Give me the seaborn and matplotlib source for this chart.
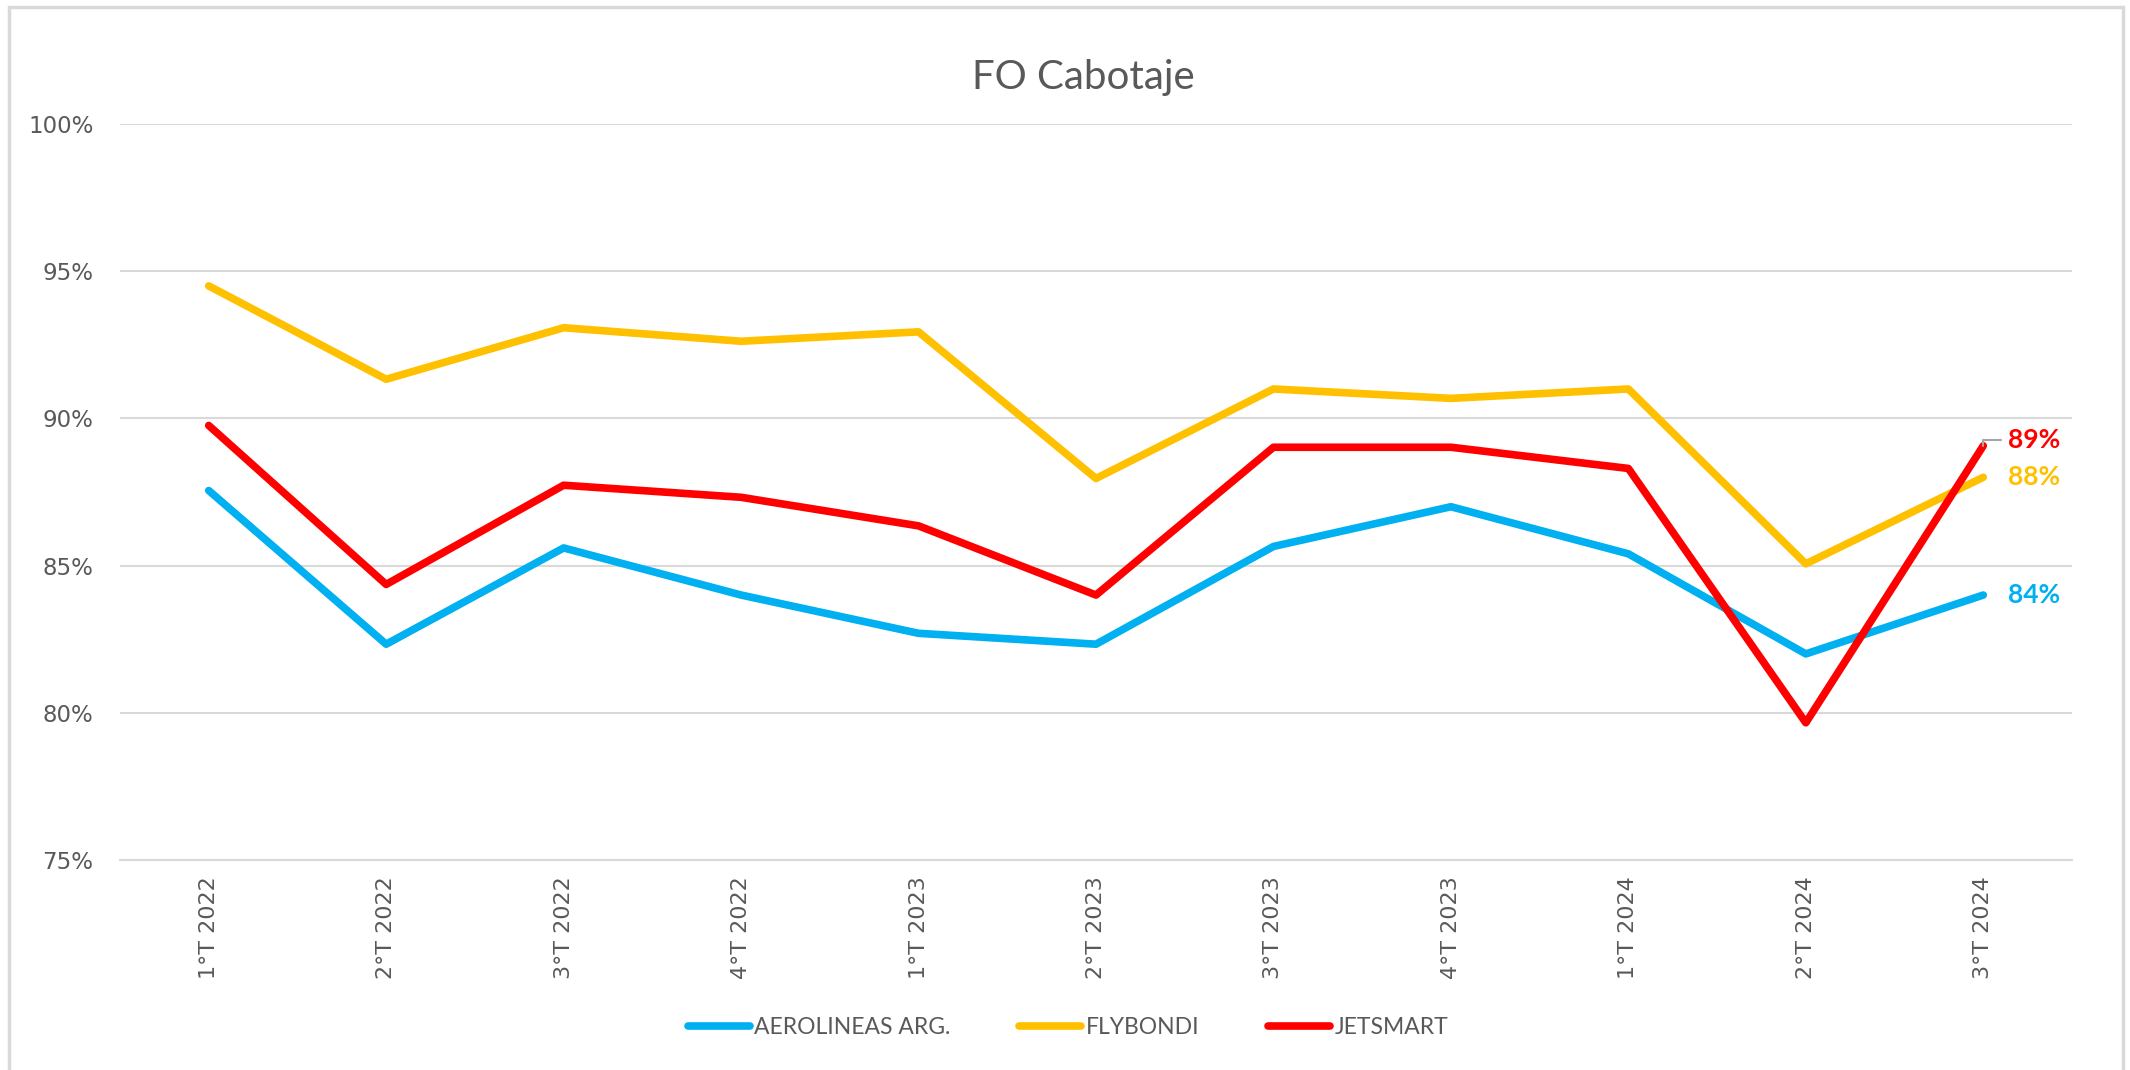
import pandas as pd
import numpy as np
import matplotlib.pyplot as plt
import seaborn as sns
from matplotlib.patches import Rectangle

# datos
trimestres = ['1°T 2022', '2°T 2022', '3°T 2022', '4°T 2022', '1°T 2023', '2°T 2023',
              '3°T 2023', '4°T 2023', '1°T 2024', '2°T 2024', '3°T 2024']
aerolineas = [87.55, 82.33, 85.6, 84.0, 82.7, 82.33, 85.65, 87.0, 85.4, 82.0, 84.0]
flybondi = [94.5, 91.33, 93.08, 92.62, 92.94, 87.96, 91.0, 90.68, 91.0, 85.06, 88.0]
jetsmart = [89.76, 84.36, 87.73, 87.32, 86.35, 84.0, 89.02, 89.02, 88.3, 79.66, 89.07]

series = ['AEROLINEAS ARG.', 'FLYBONDI', 'JETSMART']
colores = ['#00B0F0', '#FFC000', '#FF0000']

df = pd.DataFrame({
    'trimestre': trimestres * 3,
    'x': list(range(len(trimestres))) * 3,
    'aerolinea': [s for s in series for _ in trimestres],
    'fo': aerolineas + flybondi + jetsmart,
})

sns.set_theme(style='white')
plt.rcParams['font.family'] = ['DejaVu Sans']

fig = plt.figure(figsize=(21.3, 10.7), dpi=100)
ax = fig.add_axes([120 / 2130, 1 - 860 / 1070, (2072 - 120) / 2130, (860 - 124) / 1070])

sns.lineplot(data=df, x='x', y='fo', hue='aerolinea', palette=colores,
             linewidth=5.5, ax=ax, legend=False, solid_capstyle='round')

ax.set_xlim(-0.5, len(trimestres) - 0.5)
ax.set_ylim(75, 100)
ax.set_yticks(np.arange(75, 101, 5))
ax.set_yticklabels([f'{v}%' for v in range(75, 101, 5)], fontsize=16.5, color='#595959')
ax.set_xticks(range(len(trimestres)))
ax.set_xticklabels(trimestres, rotation=90, fontsize=16, color='#595959')
ax.tick_params(axis='both', length=0)
ax.tick_params(axis='x', pad=12)
ax.tick_params(axis='y', pad=19)
ax.grid(axis='y', color='#D9D9D9', linewidth=1.5)
ax.set_axisbelow(True)
for s in ['top', 'right', 'left']:
    ax.spines[s].set_visible(False)
ax.spines['bottom'].set_color('#D9D9D9')
ax.spines['bottom'].set_linewidth(1.5)
ax.set_xlabel('')
ax.set_ylabel('')

# etiquetas del ultimo trimestre
ultimo = len(trimestres) - 1
ax.annotate(f'{jetsmart[-1]:.0f}%', xy=(ultimo, jetsmart[-1]), xytext=(ultimo + 0.14, 89.25),
            fontsize=19, fontweight='bold', color=colores[2], family='Lato', va='center',
            arrowprops=dict(arrowstyle='-', color='#A6A6A6', lw=1.5,
                            connectionstyle='angle,angleA=0,angleB=90,rad=0',
                            shrinkA=3, shrinkB=0))
ax.annotate(f'{flybondi[-1]:.0f}%', xy=(ultimo, flybondi[-1]), xytext=(ultimo + 0.14, 88.0),
            fontsize=19, fontweight='bold', color=colores[1], family='Lato', va='center')
ax.annotate(f'{aerolineas[-1]:.0f}%', xy=(ultimo, aerolineas[-1]), xytext=(ultimo + 0.14, 84.0),
            fontsize=19, fontweight='bold', color=colores[0], family='Lato', va='center')

fig.text(1083 / 2130, 1 - 77 / 1070, 'FO Cabotaje', ha='center', va='center',
         fontsize=29, color='#595959', family='Lato')

# leyenda
handles = [plt.Line2D([0], [0], color=c, lw=5.5, solid_capstyle='round') for c in colores]
fig.legend(handles, series, loc='center', bbox_to_anchor=(1068 / 2130, 1 - 1028 / 1070),
           ncol=3, frameon=False, handlelength=2.7, columnspacing=3.0, handletextpad=0.2,
           prop={'family': 'Lato', 'size': 16.5}, labelcolor='#595959')

# borde del grafico
fig.patches.append(Rectangle((9 / 2130, -0.01), 2114 / 2130, 1.01 - 7 / 1070,
                             transform=fig.transFigure, fill=False,
                             edgecolor='#D9D9D9', linewidth=2.5))

fig.savefig('out.png', dpi=100, facecolor='white')
